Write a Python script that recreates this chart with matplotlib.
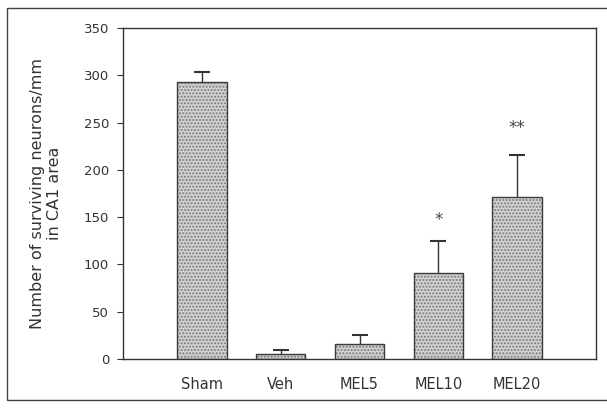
import matplotlib.pyplot as plt
from matplotlib.patches import Rectangle

# data
groups = ["Sham", "Veh", "MEL5", "MEL10", "MEL20"]
means = [293, 5, 16, 91, 171]
errors = [10, 4, 9, 34, 45]
stars = ["", "", "", "*", "**"]
star_y = [0, 0, 0, 147, 244]
yticks = [0, 50, 100, 150, 200, 250, 300, 350]

plt.rcParams['font.family'] = ['DejaVu Sans']

fig = plt.figure(figsize=(6.07, 4.09), dpi=100)
ax = fig.add_axes([123 / 607, 1 - 359 / 409, (596 - 123) / 607, (359 - 28) / 409])

x = list(range(len(groups)))
tops = [m + e for m, e in zip(means, errors)]

# stippled fill
ax.bar(x, means, width=0.63, color='#d2d2d2', edgecolor='#7a7a7a', hatch='.....', linewidth=0, zorder=2)
# outline
ax.bar(x, means, width=0.63, fill=False, edgecolor='#3a3a3a', linewidth=1.0, zorder=3)
# one-sided error bars, cap on top only
ax.vlines(x, means, tops, color='#333333', linewidth=1.0, zorder=1)
ax.plot(x, tops, linestyle='none', marker='_', markersize=11, markeredgewidth=1.5, color='#333333')

for xi, s, sy in zip(x, stars, star_y):
    if s:
        ax.text(xi, sy, s, ha='center', va='center', fontsize=12, color='#444444')

ax.set_xlim(-1, 5)
ax.set_ylim(0, 350)
ax.set_yticks(yticks)
ax.set_xticks(x)
ax.set_xticklabels(groups)
ax.tick_params(axis='x', length=0, pad=13, labelsize=10.5, colors='#333333')
ax.tick_params(axis='y', direction='out', length=4, pad=6, labelsize=9.5, colors='#333333')
for sp in ax.spines.values():
    sp.set_color('#333333')
    sp.set_linewidth(1.0)

ax.set_ylabel("Number of surviving neurons/mm\nin CA1 area", fontsize=11.5, color='#333333',
              labelpad=16, linespacing=1.15)

# outer frame of the scanned figure
fig.patches.append(Rectangle((7 / 607, 1 - 400 / 409), 1.2, 392 / 409, transform=fig.transFigure,
                             fill=False, edgecolor='#444444', linewidth=1.0))

fig.savefig("out.png", dpi=100)
